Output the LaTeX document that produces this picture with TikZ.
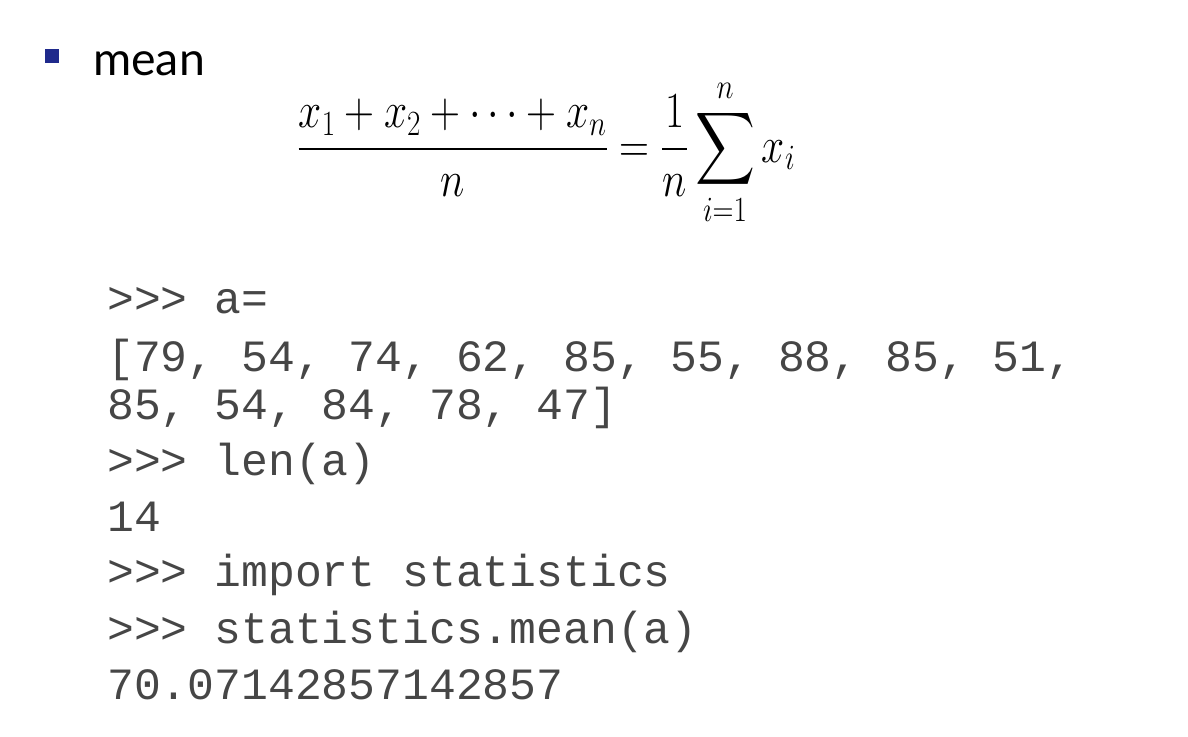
\RequirePackage{fix-cm}
\documentclass[tikz,border=0pt]{standalone}
\usepackage{amsmath, graphicx}
\usepackage{fontspec}
\setsansfont{Lato}
\setmonofont{Liberation Mono}
\usepackage{tikz}
\DeclareFontShape{OMX}{cmex}{m}{n}{<->cmex10}{}

\definecolor{marcador}{RGB}{31,42,140}
\definecolor{cinzacodigo}{RGB}{70,70,70}

\begin{document}
\begin{tikzpicture}[x=0.025cm, y=-0.025cm,
        linha/.style={anchor=base west, inner sep=0pt, text=cinzacodigo,
            font=\ttfamily\fontsize{31.8}{36}\selectfont}]
        \useasboundingbox (0,0) rectangle (1188,736);

        % Marcador e título
        \fill[marcador] (45,49) rectangle (59,63);
        \node[anchor=base west, inner sep=0pt, font=\sffamily\fontsize{33}{38}\selectfont] (titulo) at (93,75) {mean};

        % Fórmula da média
        \node[anchor=base west, inner sep=0pt, font=\fontsize{36}{42}\selectfont] (formula) at (297,162)
            {\scalebox{0.82}[1]{$\displaystyle \frac{x_1 + x_2 + \cdots + x_n}{n} = \frac{1}{n}\sum_{i=1}^{n} x_i$}};

        % Sessão do Python
        \foreach \y/\txt [count=\i] in {313/{>>> a=},
                371/{[79, 54, 74, 62, 85, 55, 88, 85, 51,},
                419/{85, 54, 84, 78, 47]},
                475/{>>> len(a)},
                531/{14},
                586/{>>> import statistics},
                643/{>>> statistics.mean(a)},
                699/{70.07142857142857}} {
            \node[linha] (linha\i) at (107,\y) {\txt};
        }
    \end{tikzpicture}
\end{document}
